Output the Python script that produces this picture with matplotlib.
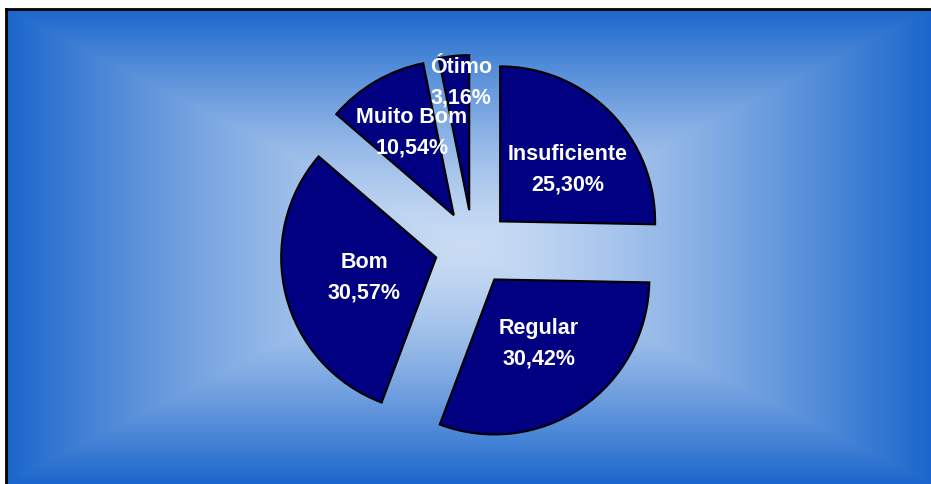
import numpy as np
import matplotlib.pyplot as plt
from matplotlib.colors import to_rgb

categories = ["Insuficiente", "Regular", "Bom", "Muito Bom", "Ótimo"]
values = [25.30, 30.42, 30.57, 10.54, 3.16]
pct_labels = ["25,30%", "30,42%", "30,57%", "10,54%", "3,16%"]

# label placement relative to each wedge tip: fraction of radius, angle shift (deg)
label_frac = [0.55, 0.50, 0.48, 0.60, 0.83]
label_shift = [-6.7, 0.7, 0.4, -3.6, -2.2]

W, H = 925, 475
EDGE = to_rgb("#1a66cc")
CENTER = to_rgb("#cadcf4")


def background(ax):
    x = np.linspace(-1, 1, W)
    y = np.linspace(-1, 1, H)
    xx, yy = np.meshgrid(x, y)
    t = np.maximum(np.abs(xx), np.abs(yy)) ** 1.4
    img = np.empty((H, W, 3))
    for i in range(3):
        img[..., i] = CENTER[i] + (EDGE[i] - CENTER[i]) * t
    ax.imshow(img, extent=(0, W, 0, H), origin="lower", zorder=0)


fig = plt.figure(figsize=(9.31, 4.85), dpi=100)
ax = fig.add_axes([6 / 931, 0, W / 931, H / 485])
background(ax)

radius = 155
wedges, _ = ax.pie(
    values,
    startangle=90,
    counterclock=False,
    explode=[38] * len(values),
    radius=radius,
    center=(467, 236),
    colors=["#000080"] * len(values),
    wedgeprops=dict(edgecolor="black", linewidth=1.5),
    frame=True,
)

for w, name, pct, frac, shift in zip(wedges, categories, pct_labels, label_frac, label_shift):
    mid = np.deg2rad((w.theta1 + w.theta2) / 2 + shift)
    cx, cy = w.center
    lx = cx + w.r * frac * np.cos(mid)
    ly = cy + w.r * frac * np.sin(mid)
    ax.text(lx, ly, f"{name}\n{pct}", ha="center", va="center", color="white",
            fontsize=15.5, fontweight="bold", family="Liberation Sans",
            linespacing=1.6, zorder=5)

ax.set_xlim(0, W)
ax.set_ylim(0, H)
ax.set_aspect("equal")
ax.set_xticks([])
ax.set_yticks([])
for side in ["right", "bottom"]:
    ax.spines[side].set_visible(False)
for side in ["top", "left"]:
    ax.spines[side].set_linewidth(2)
    ax.spines[side].set_color("black")

fig.savefig("out.png", dpi=100)
